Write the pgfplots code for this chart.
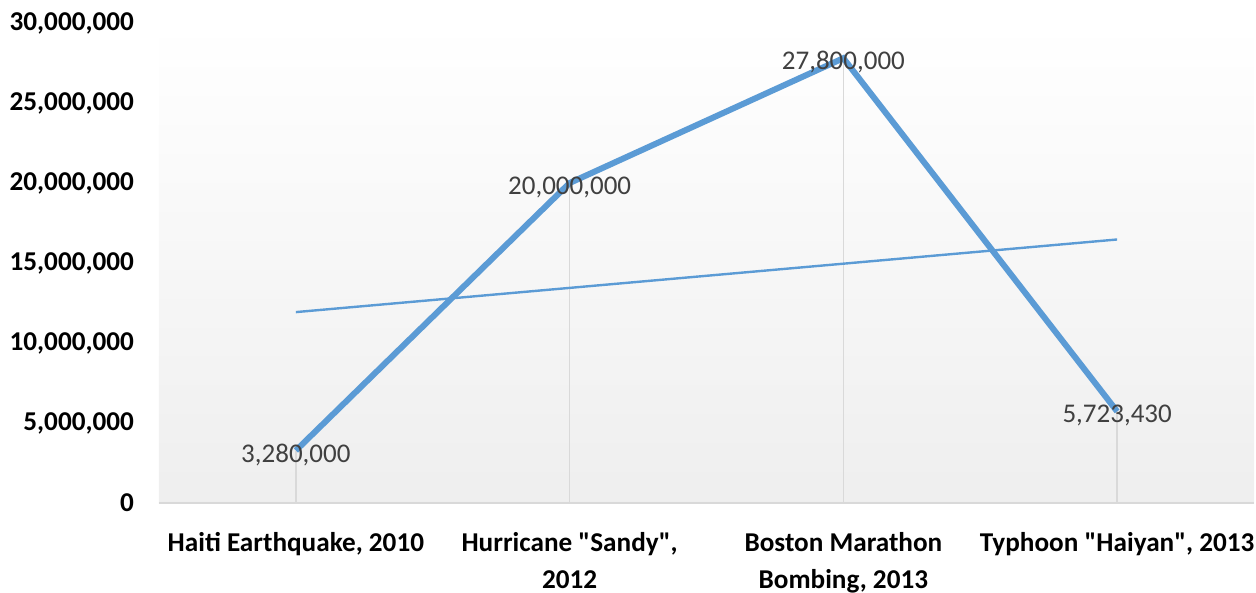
\documentclass[border=0pt]{standalone}
\usepackage{pgfplots}
\pgfplotsset{compat=1.18}
\usepackage{pgfplotstable}
\usepackage{fontspec}
\setmainfont{Carlito}[Ligatures=TeXOff]
\definecolor{lineblue}{HTML}{5B9BD5}
\definecolor{gridgray}{HTML}{D9D9D9}
\definecolor{labelgray}{HTML}{404040}

\pgfplotstableread{
x y lab
0 3280000 3,280,000
1 20000000 20,000,000
2 27800000 27,800,000
3 5723430 5,723,430
}\donations

\begin{document}
\begin{tikzpicture}
  \begin{axis}[
    at={(0,0)}, anchor=south west,
    scale only axis,
    width=547.5pt, height=240pt,
    xmin=-0.5, xmax=3.5,
    ymin=0, ymax=30000000,
    ytick={0,5000000,10000000,15000000,20000000,25000000,30000000},
    scaled y ticks=false,
    yticklabel style={font=\bfseries\fontsize{13.6}{16}\selectfont, xshift=-9pt,
      /pgf/number format/.cd, fixed, precision=0, 1000 sep={,}, assume math mode=true},
    xtick={0,1,2,3},
    xticklabels={{Haiti Earthquake, 2010},{Hurricane "Sandy",\\2012},{Boston Marathon\\Bombing, 2013},{Typhoon "Haiyan", 2013}},
    xticklabel style={font=\bfseries\fontsize{13.6}{18.5}\selectfont, align=center, anchor=north, yshift=-11pt},
    major tick length=0pt,
    axis x line*=bottom,
    axis y line*=left,
    axis line style={draw=none},
    axis background/.style={shade, top color=white, bottom color=gray!13},
    clip=false,
  ]
  % drop lines
  \addplot[ycomb, gridgray, line width=0.8pt, no markers] table[x=x, y=y] {\donations};
  \draw[gridgray, line width=0.9pt] (axis cs:-0.5,0) -- (axis cs:3.5,0);
  % main series
  \addplot[lineblue, line width=3pt, no markers] table[x=x, y=y] {\donations};
  % linear trend line
  \addplot[lineblue, line width=1.2pt, no markers] coordinates {(0,11931000) (3,16470000)};
  % data labels
  \addplot[draw=none, no markers,
    nodes near coords, point meta=explicit symbolic,
    every node near coord/.style={anchor=center, yshift=-2pt, font=\fontsize{13.5}{15}\selectfont, text=labelgray}]
    table[x=x, y=y, meta=lab] {\donations};
  \end{axis}
  \pgfresetboundingbox
  \useasboundingbox (-79.5pt,-45pt) rectangle (548.5pt,251.5pt);
\end{tikzpicture}
\end{document}
